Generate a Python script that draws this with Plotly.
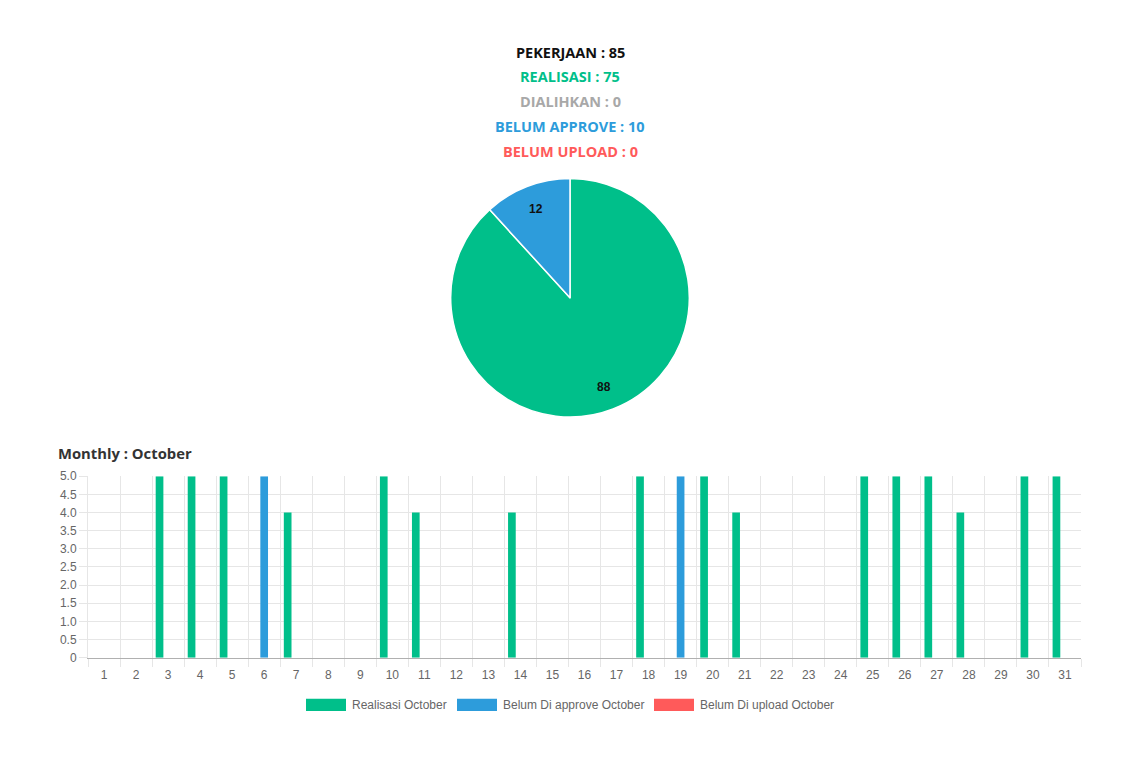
import math
import plotly.graph_objects as go

# ---------------- data ----------------
summary_labels = ["PEKERJAAN", "REALISASI", "DIALIHKAN", "BELUM APPROVE", "BELUM UPLOAD"]
summary_values = [85, 75, 0, 10, 0]
summary_colors = ["#111111", "#00bf8a", "#a8a8a8", "#2d9cdb", "#ff5a5a"]

pie_labels = ["Realisasi", "Dialihkan", "Belum Approve", "Belum Upload"]
pie_values = [75, 0, 10, 0]
pie_colors = ["#00bf8a", "#a8a8a8", "#2d9cdb", "#ff5a5a"]

days = list(range(1, 32))
realisasi = [0, 0, 5, 5, 5, 0, 4, 0, 0, 5, 4, 0, 0, 4, 0, 0, 0, 5, 0, 5, 4, 0, 0, 0, 5, 5, 5, 4, 0, 5, 5]
belum_approve = [0, 0, 0, 0, 0, 5, 0, 0, 0, 0, 0, 0, 0, 0, 0, 0, 0, 0, 5, 0, 0, 0, 0, 0, 0, 0, 0, 0, 0, 0, 0]
belum_upload = [0] * 31
series_names = ["Realisasi October", "Belum Di approve October", "Belum Di upload October"]
series_colors = ["#00bf8a", "#2d9cdb", "#ff5a5a"]

W, H = 1140, 764
# effective drawing area observed in the rendered page
EFF_TOP, EFF_H = 8, 748


def px(x):
    return x / W


def py(y):
    return 1 - (y - EFF_TOP) / EFF_H


fig = go.Figure()

# ---------------- pie ----------------
PCX, PCY, PR = 570, 298, 119
nz = [(l, v, c) for l, v, c in zip(pie_labels, pie_values, pie_colors) if v > 0]
total = sum(v for _, v, _ in nz)
fig.add_trace(go.Pie(
    labels=[l for l, _, _ in nz],
    values=[v for _, v, _ in nz],
    marker=dict(colors=[c for _, _, c in nz], line=dict(color="white", width=1.5)),
    textinfo="none",
    sort=False,
    direction="clockwise",
    rotation=0,
    showlegend=False,
    domain=dict(x=[px(PCX - 170), px(PCX + 170)], y=[py(PCY + PR), py(PCY - PR)]),
    hoverinfo="label+value",
))

annotations = []
# percentage labels placed at slice mid-angles (chart.js datalabels style)
cum = 0
for l, v, c in nz:
    mid = (cum + v / 2) / total * 2 * math.pi
    cum += v
    lx = PCX + 0.8 * PR * math.sin(mid)
    ly = PCY - 0.8 * PR * math.cos(mid)
    annotations.append(dict(
        text=f"<b>{round(v / total * 100)}</b>", x=px(lx), y=py(ly), xref="paper", yref="paper",
        showarrow=False, xanchor="center", yanchor="middle",
        font=dict(family="Liberation Sans, Arial", size=12, color="#111111"),
    ))

# ---------------- bars ----------------
for name, vals, col in zip(series_names, [realisasi, belum_approve, belum_upload], series_colors):
    fig.add_trace(go.Bar(
        x=days, y=vals, name=name,
        marker=dict(color=col, line=dict(width=0)),
        showlegend=False,
        xaxis="x", yaxis="y",
    ))

for i, (lab, val, col) in enumerate(zip(summary_labels, summary_values, summary_colors)):
    annotations.append(dict(
        text=f"<b>{lab} : {val}</b>", x=px(570), y=py(53 + i * 24.75), xref="paper", yref="paper",
        showarrow=False, xanchor="center", yanchor="middle",
        font=dict(family="Open Sans, Lato, sans-serif", size=14.5, color=col),
    ))

annotations.append(dict(
    text="<b>Monthly : October</b>", x=px(56), y=py(453), xref="paper", yref="paper",
    showarrow=False, xanchor="left", yanchor="middle",
    font=dict(family="Open Sans, Lato, sans-serif", size=14.8, color="#333333"),
))

# manual chart.js-style legend
shapes = []
leg_x = [306, 457, 654]
for lx, name, col in zip(leg_x, series_names, series_colors):
    shapes.append(dict(type="rect", xref="paper", yref="paper",
                       x0=px(lx), x1=px(lx + 40), y0=py(710), y1=py(698),
                       fillcolor=col, line=dict(width=0)))
    annotations.append(dict(
        text=name, x=px(lx + 44), y=py(704), xref="paper", yref="paper",
        showarrow=False, xanchor="left", yanchor="middle",
        font=dict(family="Liberation Sans, Arial", size=12, color="#666666"),
    ))

fig.update_layout(
    width=W, height=H,
    margin=dict(l=0, r=0, t=0, b=0),
    paper_bgcolor="white", plot_bgcolor="white",
    barmode="group", bargap=0.2, bargroupgap=0.1,
    xaxis=dict(
        domain=[px(88), px(1081)],
        anchor="y",
        range=[0.5, 31.5],
        tickmode="array", tickvals=days, ticktext=[str(d) for d in days],
        showgrid=False, ticks="", ticklen=0,
        ticklabelstandoff=6,
        tickfont=dict(family="Liberation Sans, Arial", size=12, color="#666666"),
        showline=True, linecolor="#b0b0b0", linewidth=1,
        zeroline=False,
        minor=dict(tickvals=[d + 0.5 for d in range(0, 32)], showgrid=True,
                   gridcolor="#e6e6e6", gridwidth=1, ticks="outside", ticklen=8,
                   tickcolor="#e6e6e6"),
        fixedrange=True,
    ),
    yaxis=dict(
        domain=[py(657), py(476)],
        anchor="x",
        range=[0, 5],
        tickmode="array",
        tickvals=[0, 0.5, 1, 1.5, 2, 2.5, 3, 3.5, 4, 4.5, 5],
        ticktext=["0", "0.5", "1.0", "1.5", "2.0", "2.5", "3.0", "3.5", "4.0", "4.5", "5.0"],
        showgrid=True, gridcolor="#e6e6e6", gridwidth=1,
        ticks="outside", ticklen=8, tickcolor="#e6e6e6",
        tickfont=dict(family="Liberation Sans, Arial", size=12, color="#666666"),
        showline=True, linecolor="#e6e6e6", linewidth=1,
        zeroline=False,
        fixedrange=True,
    ),
    annotations=annotations,
    shapes=shapes,
)

post = (
    "var gd=document.getElementById('{plot_id}');"
    "gd.style.position='fixed';gd.style.top='0px';gd.style.left='0px';"
    "document.body.style.margin='0px';document.body.style.overflow='hidden';"
)
fig.write_html("out.html", config={"displayModeBar": False}, post_script=post)
